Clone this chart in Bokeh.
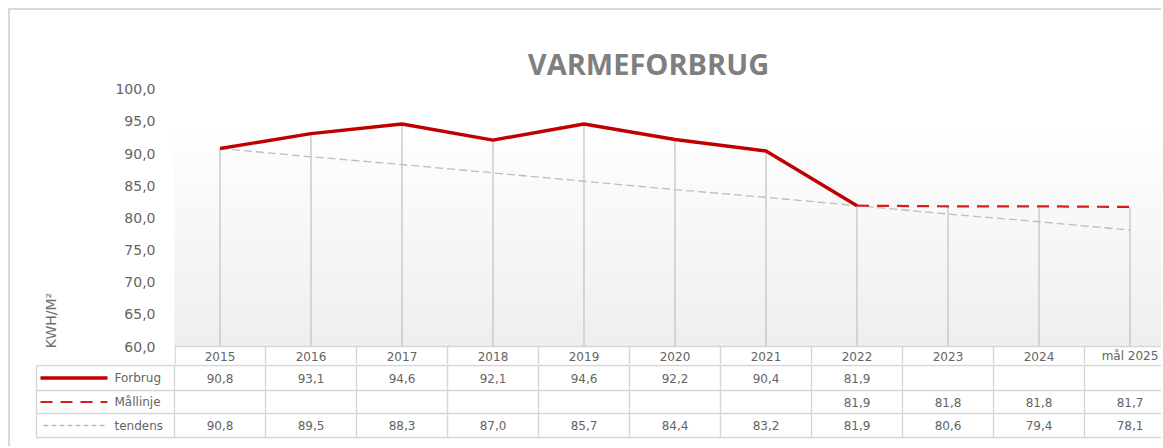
import numpy as np
from bokeh.plotting import figure
from bokeh.layouts import column
from bokeh.models import Range1d, FixedTicker, CustomJSTickFormatter, LinearAxis
from bokeh.core.properties import value
from bokeh.embed import file_html
from bokeh.resources import INLINE

# ---------------- data ----------------
categories = ["2015", "2016", "2017", "2018", "2019", "2020", "2021", "2022", "2023", "2024", "mål 2025"]
forbrug = [90.8, 93.1, 94.6, 92.1, 94.6, 92.2, 90.4, 81.9, np.nan, np.nan, np.nan]
maallinje = [np.nan, np.nan, np.nan, np.nan, np.nan, np.nan, np.nan, 81.9, 81.8, 81.8, 81.7]
tendens = [90.8, 89.5, 88.3, 87.0, 85.7, 84.4, 83.2, 81.9, 80.6, 79.4, 78.1]
series_names = ["Forbrug", "Mållinje", "tendens"]
y_ticks = [60, 65, 70, 75, 80, 85, 90, 95, 100]
title_text = "VARMEFORBRUG"
y_label = "KWH/M²"

# ---------------- styles / geometry ----------------
FONT = "DejaVu Sans"
TXT = "#646464"
GRID = "#d6d6d6"
RED = "#c00000"
RED2 = "#d81c1c"
GREY_LINE = "#bdbdbd"
PX = 91.0          # px per category
PPU = 6.43         # px per value unit
ORIGIN = 10        # page x/y of canvas origin (margin + border)
CAT0 = 219.5       # page x of first category centre
BASE_PAGE = 346    # page y of the value-axis minimum
W = 1151
LEFT = 164
A_BOTTOM_PAGE = 364
A_H = A_BOTTOM_PAGE - ORIGIN
B_H = 82

def xpage(px):
    return (px - CAT0) / PX

def ypage(py):
    return y_ticks[0] + (BASE_PAGE - py) / PPU

x0 = -0.5
x1 = x0 + (W - LEFT) / PX
ya = ypage(A_BOTTOM_PAGE)
yb = ypage(ORIGIN)
base = y_ticks[0]

idx = np.arange(len(categories))
f = np.array(forbrug, dtype=float)
m = np.array(maallinje, dtype=float)
t = np.array(tendens, dtype=float)
col_edges = np.arange(len(categories) + 1) - 0.5

# ---------------- chart ----------------
pa = figure(width=W, height=A_H, x_range=Range1d(x0, x1), y_range=Range1d(ya, yb),
            output_backend="svg", toolbar_location=None, x_axis_location=None,
            min_border_left=LEFT, min_border_right=0, min_border_top=0, min_border_bottom=0,
            outline_line_color=None, background_fill_color="white", border_fill_color="white")
pa.grid.visible = False

ax = pa.yaxis[0]
ax.ticker = FixedTicker(ticks=y_ticks)
ax.formatter = CustomJSTickFormatter(code="return tick.toFixed(1).replace('.', ',');")
ax.axis_line_color = None
ax.major_tick_line_color = None
ax.minor_tick_line_color = None
ax.major_label_standoff = 13
ax.major_label_text_font = FONT
ax.major_label_text_font_size = "14px"
ax.major_label_text_color = TXT

# axis title placed low, like the reference
ax2 = LinearAxis(ticker=FixedTicker(ticks=[ypage(320)]),
                 formatter=CustomJSTickFormatter(code="return '%s';" % y_label))
ax2.axis_line_color = None
ax2.major_tick_line_color = None
ax2.minor_tick_line_color = None
ax2.major_label_orientation = "vertical"
ax2.major_label_standoff = 48
ax2.major_label_text_font = FONT
ax2.major_label_text_font_size = "14px"
ax2.major_label_text_color = "#707070"
pa.add_layout(ax2, "left")

# plot-area gradient
n = 40
edges = np.linspace(base, ypage(123), n + 1)
shades = np.linspace(239, 255, n)
cols = ["#%02x%02x%02x" % (int(s), int(s), int(s)) for s in shades]
pa.quad(left=x0, right=x1, bottom=edges[:-1], top=edges[1:], fill_color=cols, line_color=cols, line_width=1)

# drop lines
tops = np.nanmax(np.vstack([f, m, t]), axis=0)
pa.segment(x0=idx, y0=tops, x1=idx, y1=base, line_color="#c4c4c4", line_width=1.3)

pa.line(idx, t, line_color=GREY_LINE, line_width=1.3, line_dash="8 4")
pa.line(idx, m, line_color=RED2, line_width=2.2, line_dash="12 8")
pa.line(idx, f, line_color=RED, line_width=3.4)

pa.text(x=[xpage(648)], y=[ypage(63)], text=[title_text], text_font=value("Open Sans"),
        text_font_style="bold", text_font_size="29px", text_color="#7f7f7f",
        text_align="center", text_baseline="middle")

# header row of the data table (category axis)
vx = col_edges.copy()
vx[0] = x0 + 0.7 / PX
pa.segment(x0=[x0], y0=[base], x1=[x1], y1=[base], line_color=GRID, line_width=1.4)
pa.segment(x0=vx, y0=base, x1=vx, y1=ya, line_color=GRID, line_width=1.4)
pa.text(x=idx, y=[ypage(355.5)] * len(idx), text=categories, text_font=value(FONT),
        text_font_size="12px", text_color=TXT, text_align="center", text_baseline="middle")

# ---------------- data table rows ----------------
bx0 = xpage(ORIGIN)
pb = figure(width=W, height=B_H, x_range=Range1d(bx0, x1), y_range=Range1d(-B_H, 0),
            output_backend="svg", toolbar_location=None, x_axis_location=None, y_axis_location=None,
            min_border=0, outline_line_color=None, background_fill_color="white",
            border_fill_color="white")
pb.grid.visible = False

row_edges = [-1, -26, -49, -73]
row_centres = [(row_edges[i] + row_edges[i + 1]) / 2 for i in range(3)]
leg_left = xpage(36)

pb.segment(x0=[leg_left] * 4, y0=row_edges, x1=[x1] * 4, y1=row_edges, line_color=GRID, line_width=1.4)
pb.segment(x0=col_edges, y0=row_edges[0], x1=col_edges, y1=row_edges[-1], line_color=GRID, line_width=1.4)
pb.segment(x0=[leg_left], y0=[row_edges[0]], x1=[leg_left], y1=[row_edges[-1]], line_color=GRID, line_width=1.4)

def fmt(v):
    return "" if np.isnan(v) else ("%.1f" % v).replace(".", ",")

for r, arr in enumerate([f, m, t]):
    pb.text(x=idx, y=[row_centres[r]] * len(idx), text=[fmt(v) for v in arr], text_font=value(FONT),
            text_font_size="12px", text_color=TXT, text_align="center", text_baseline="middle")

# legend keys
lx0, lx1 = xpage(40), xpage(107)
pb.line([lx0, lx1], [row_centres[0]] * 2, line_color=RED, line_width=3.4)
pb.line([lx0, lx1], [row_centres[1]] * 2, line_color=RED2, line_width=2.2, line_dash="12 8")
pb.line([xpage(43), lx1], [row_centres[2]] * 2, line_color=GREY_LINE, line_width=1.3, line_dash="5 3")
pb.text(x=[xpage(114)] * 3, y=row_centres, text=series_names, text_font=value(FONT),
        text_font_size="12px", text_color=TXT, text_align="left", text_baseline="middle")

BOX = {"margin-left": "8px", "margin-top": "8px",
       "border-top": "2px solid #d9d9d9", "border-left": "2px solid #d9d9d9"}
try:
    pa.frame_align = False
    pb.frame_align = False
    root = column(pa, pb, spacing=0, styles=BOX)
except AttributeError:
    pa.styles = {"margin-left": "8px", "margin-top": "8px",
                 "border-top": "2px solid #d9d9d9", "border-left": "2px solid #d9d9d9"}
    pb.styles = {"margin-left": "8px", "border-left": "2px solid #d9d9d9"}
    root = [pa, pb]

open("out.html", "w").write(file_html(root, INLINE))
